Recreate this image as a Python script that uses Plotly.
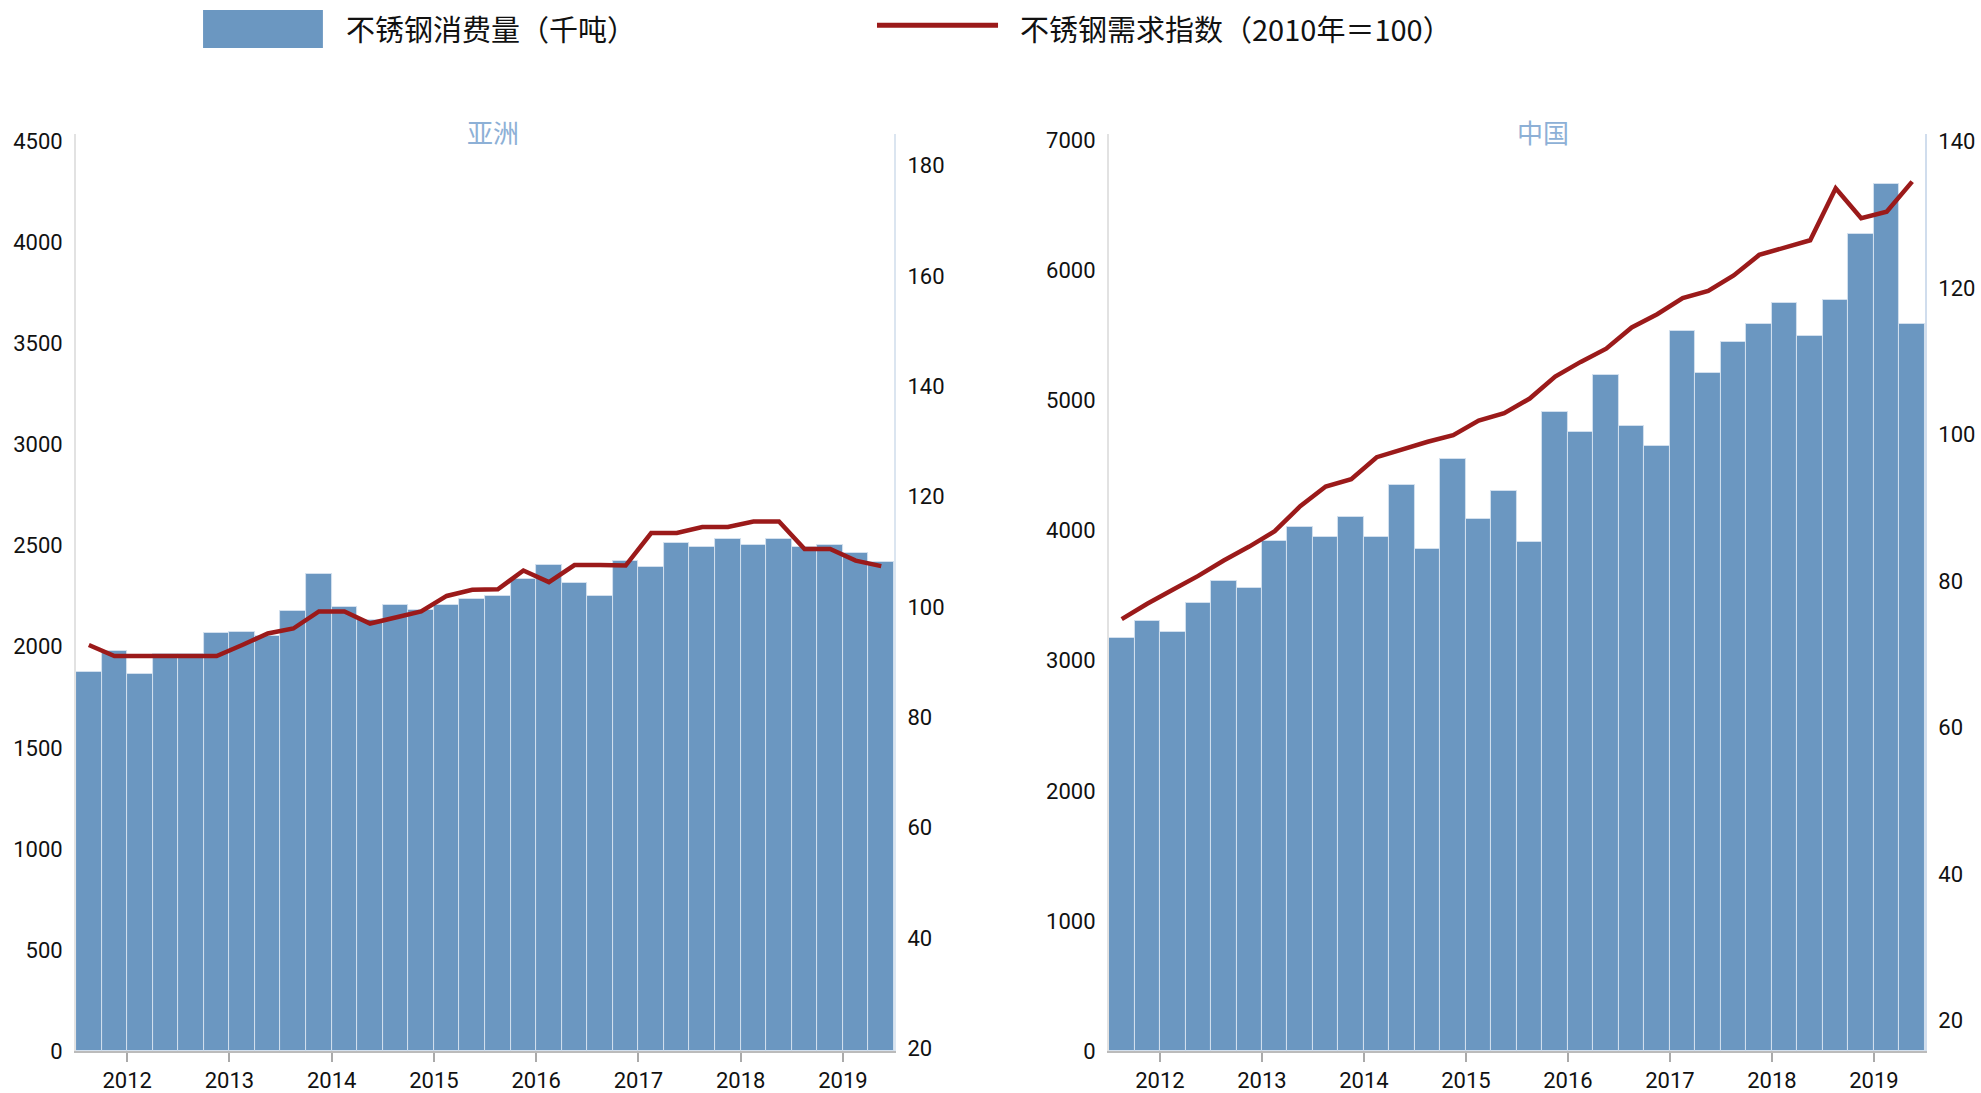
import plotly.graph_objects as go

# quarters 2011Q3 .. 2019Q2
quarters = []
for yr in range(2011, 2020):
    for q in range(1, 5):
        quarters.append(f"{yr}Q{q}")
quarters = quarters[2:-2]

years = [2012, 2013, 2014, 2015, 2016, 2017, 2018, 2019]

# 亚洲
asia_consumption = [1875, 1978, 1865, 1962, 1962, 2070, 2072, 2055, 2177, 2360, 2197, 2135,
                    2205, 2182, 2205, 2238, 2252, 2335, 2405, 2315, 2250, 2425, 2395, 2515,
                    2495, 2532, 2502, 2532, 2495, 2505, 2462, 2420]
asia_index = [93.1, 91.1, 91.1, 91.1, 91.1, 91.1, 93.1, 95.2, 96.1, 99.2, 99.2, 97.0,
              98.1, 99.2, 102.0, 103.1, 103.2, 106.6, 104.5, 107.6, 107.6, 107.5, 113.4, 113.4,
              114.5, 114.5, 115.5, 115.5, 110.5, 110.5, 108.4, 107.4]

# 中国
china_consumption = [3175, 3305, 3220, 3442, 3614, 3557, 3917, 4025, 3948, 4105, 3948, 4352,
                     3860, 4547, 4090, 4306, 3910, 4912, 4759, 5192, 4805, 4651, 5535, 5213,
                     5452, 5588, 5752, 5492, 5776, 6280, 6660, 5588]
china_index = [74.8, 76.9, 78.8, 80.7, 82.8, 84.7, 86.8, 90.2, 92.9, 93.9, 96.9, 98.0,
               99.0, 99.9, 101.9, 102.9, 104.9, 107.9, 109.9, 111.7, 114.6, 116.4, 118.6, 119.6,
               121.7, 124.5, 125.5, 126.5, 133.6, 129.5, 130.4, 134.5]

BAR_COLOR = "#6b97c1"
LINE_COLOR = "#9b1a1a"
TICK_FONT = dict(family="Roboto", size=22, color="#111111")
CJK = "Noto Sans CJK SC"

x = list(range(len(quarters)))
tickvals = [quarters.index(f"{y}Q1") - 0.5 for y in years]
ticktext = [str(y) for y in years]

fig = go.Figure()

panels = [
    ("亚洲", asia_consumption, asia_index, "x", "y", "y2"),
    ("中国", china_consumption, china_index, "x2", "y3", "y4"),
]

for name, cons, idx, xa, ya, ya2 in panels:
    fig.add_trace(go.Bar(
        x=x, y=cons, xaxis=xa, yaxis=ya, width=1,
        marker=dict(color=BAR_COLOR, line=dict(color="#d3e0ee", width=1)),
        hovertext=quarters, name="不锈钢消费量（千吨）", showlegend=False,
    ))
    fig.add_trace(go.Scatter(
        x=x, y=idx, xaxis=xa, yaxis=ya2, mode="lines",
        line=dict(color=LINE_COLOR, width=4.5),
        hovertext=quarters, name="不锈钢需求指数（2010年＝100）", showlegend=False,
    ))

ydom = [0.0384, 0.8774]

xcommon = dict(
    range=[-0.5, len(x) - 0.5], tickvals=tickvals, ticktext=ticktext,
    ticks="outside", ticklen=9, tickwidth=2, tickcolor="#aaaaaa",
    showline=True, linecolor="#bbbbbb", linewidth=2, automargin=False,
    showgrid=False, zeroline=False, tickfont=TICK_FONT, fixedrange=True,
)
ycommon = dict(showgrid=False, zeroline=False, ticks="", tickfont=TICK_FONT, automargin=False,
               showline=True, linewidth=2, ticklabelstandoff=7)

fig.update_layout(
    width=1981, height=1093,
    margin=dict(l=0, r=0, t=0, b=0),
    paper_bgcolor="white", plot_bgcolor="white",
    bargap=0, showlegend=False,
    xaxis=dict(domain=[0.0384, 0.4513], anchor="y", **xcommon),
    xaxis2=dict(domain=[0.5598, 0.9717], anchor="y3", **xcommon),
    yaxis=dict(domain=ydom, anchor="x", range=[0, 4537], tickvals=list(range(0, 4501, 500)),
               linecolor="#e2e2e2", **ycommon),
    yaxis2=dict(overlaying="y", side="right", anchor="x", range=[19.54, 185.7],
                tickvals=list(range(20, 181, 20)), linecolor="#dbe5f0", **ycommon),
    yaxis3=dict(domain=ydom, anchor="x2", range=[0, 7048], tickvals=list(range(0, 7001, 1000)),
                linecolor="#e2e2e2", **ycommon),
    yaxis4=dict(overlaying="y3", side="right", anchor="x2", range=[15.86, 141.0],
                tickvals=list(range(20, 141, 20)), linecolor="#d0dded", **ycommon),
)

# panel titles
for txt, px_ in [("亚洲", 0.249), ("中国", 0.779)]:
    fig.add_annotation(text=txt, x=px_, y=0.880, xref="paper", yref="paper",
                       showarrow=False, xanchor="center", yanchor="middle",
                       font=dict(family=CJK, size=26, color="#8db0d6"))

# legend drawn at top
fig.add_shape(type="rect", xref="paper", yref="paper", x0=0.1025, x1=0.163, y0=0.956, y1=0.9909,
              fillcolor=BAR_COLOR, line=dict(width=0))
fig.add_annotation(text="不锈钢消费量（千吨）", x=0.1736, y=0.974, xref="paper", yref="paper",
                   showarrow=False, xanchor="left", yanchor="middle",
                   font=dict(family=CJK, size=29, color="#111111"))
fig.add_shape(type="line", xref="paper", yref="paper", x0=0.4427, x1=0.5038, y0=0.977, y1=0.977,
              line=dict(color=LINE_COLOR, width=5))
fig.add_annotation(text="不锈钢需求指数（2010年＝100）", x=0.514, y=0.974, xref="paper", yref="paper",
                   showarrow=False, xanchor="left", yanchor="middle",
                   font=dict(family=CJK, size=29, color="#111111"))

# drop the default page margin so the figure fills the window exactly
fig.write_html("out.html", config={"displayModeBar": False},
               post_script="document.body.style.margin='0';document.body.style.overflow='hidden';")
